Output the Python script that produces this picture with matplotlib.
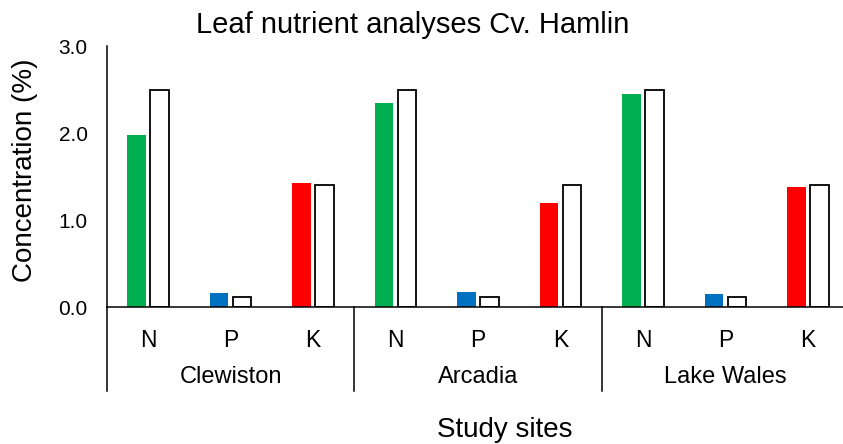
import numpy as np
import matplotlib
matplotlib.use("Agg")
import matplotlib.pyplot as plt
import matplotlib.transforms as mtransforms

plt.rcParams['font.family'] = ['Liberation Sans', 'DejaVu Sans']

# ---------------- data ----------------
sites = ['Clewiston', 'Arcadia', 'Lake Wales']
nutrients = ['N', 'P', 'K']
measured = [1.98, 0.16, 1.42,   # Clewiston
            2.35, 0.17, 1.20,   # Arcadia
            2.45, 0.15, 1.38]   # Lake Wales
optimum = [2.50, 0.12, 1.40,
           2.50, 0.12, 1.40,
           2.50, 0.12, 1.40]
bar_colors = ['#00B050', '#0070C0', '#FF0000'] * 3

# ---------------- figure ----------------
W, H = 843, 444
fig = plt.figure(figsize=(W / 100, H / 100), dpi=100)
ax = fig.add_axes([107 / W, 1 - 307 / H, 742 / W, 261 / H])

x = np.arange(len(measured))
bw = 0.225
ax.bar(x - 0.14, measured, width=bw, color=bar_colors, edgecolor='none')
ax.bar(x + 0.14, optimum, width=bw, color='white', edgecolor='black', linewidth=1.3)

ax.set_xlim(-0.5, len(measured) - 0.5)
ax.set_ylim(0, 3.0)
ax.set_yticks([0, 1, 2, 3])
ax.set_yticklabels(['0.0', '1.0', '2.0', '3.0'], fontsize=15)
ax.tick_params(axis='y', length=0, pad=14)

ax.set_xticks(x)
ax.set_xticklabels(nutrients * len(sites), fontsize=16.5)
ax.tick_params(axis='x', length=0, pad=16)

for s in ['top', 'right']:
    ax.spines[s].set_visible(False)
ax.spines['left'].set_linewidth(1.1)
ax.spines['bottom'].set_linewidth(1.1)

# group separators + group labels below the axis
trans = mtransforms.blended_transform_factory(ax.transData, ax.transAxes)
low = -84 / 261
for b in [-0.5, 2.5, 5.5]:
    ax.plot([b, b], [0, low], color='black', lw=1.1, transform=trans, clip_on=False)
for i, s in enumerate(sites):
    ax.text(3 * i + 1, -70 / 261, s, transform=trans, ha='center', va='center', fontsize=17)

fig.text(413 / W, 1 - 33 / H, 'Leaf nutrient analyses Cv. Hamlin', ha='center', va='baseline', fontsize=21)
fig.text(505 / W, 1 - 437 / H, 'Study sites', ha='center', va='baseline', fontsize=20)
fig.text(25 / W, 1 - 170 / H, 'Concentration (%)', ha='center', va='center', rotation=90, fontsize=20)

fig.savefig('out.png', dpi=100)
